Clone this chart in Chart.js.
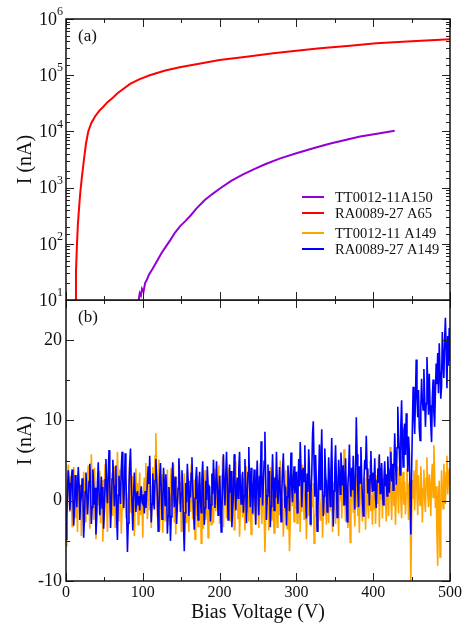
<!DOCTYPE html>
<html>
<head>
<meta charset="utf-8">
<script src="https://cdn.jsdelivr.net/npm/chart.js@4.4.1/dist/chart.umd.min.js"></script>
<style>
  html, body { margin: 0; padding: 0; background: #fff; }
  #wrap { position: relative; width: 466px; height: 630px; }
  #topChart { position: absolute; left: 0; top: 0; }
  #botChart { position: absolute; left: 0; top: 300px; }
</style>
</head>
<body>
<div id="wrap">
  <canvas id="topChart" width="466" height="320"></canvas>
  <canvas id="botChart" width="466" height="330"></canvas>
</div>
<script>
// legend entries, in the order of the figure
const seriesNames = ['TT0012-11A150', 'RA0089-27 A65', 'TT0012-11 A149', 'RA0089-27 A149'];
const seriesColors = ['#9400D3', '#FF0000', '#FFA500', '#0000FF'];

// panel (a): I-V curves, log scale
const redVoltage = [11.5, 12.1, 13, 14.3, 15.5, 16.9, 18.5, 20.4, 23.4, 26, 29, 33, 38, 43, 48, 54, 61, 67, 74, 84, 96, 109, 128, 148, 175, 200, 235, 270, 300, 331, 370, 404, 450, 500];
const redCurrent = [6.3, 10, 32, 100, 224, 417, 794, 1413, 3162, 6026, 10000, 14125, 18621, 22909, 26915, 33113, 39811, 47863, 56234, 70795, 85114, 100000, 120226, 138038, 162181, 186209, 213796, 245471, 272270, 301995, 334965, 371535, 402717, 436516];

const purpleVoltage = [94, 96, 97.5, 99, 101, 103, 105, 108, 113, 118, 124.6, 130, 136, 142, 148.4, 155, 162, 170, 180, 190, 200, 215, 230, 245, 260, 279, 300, 322, 343, 365, 383, 405, 428];
const purpleCurrent = [8.9, 13.2, 12.0, 15.8, 14.1, 20, 22.4, 28.2, 36.3, 47.9, 69.2, 89.1, 117.5, 158.5, 204, 251, 316, 427, 589, 759, 955, 1318, 1698, 2138, 2630, 3311, 4074, 5012, 6026, 7079, 8128, 9120, 10233];

// panel (b): noise currents, 1 V steps from 0 to 500 V
const sweepVoltage = Array.from({ length: 501 }, (_, i) => i);

const orangeCurrent = [
  -5.6, -2.0, 2.4, 4.5, 1.8, -1.4, 3.1, 0.7, -3.2, 0.9, 4.2, 2.3, -2.1, 1.6, -0.5, -3.9, 3.4, 1.2, -0.7, 2.0, -4.4, -1.3, 0.5, 3.6, 1.0,
  -2.6, 1.3, -1.0, 2.9, 4.4, -0.3, -3.5, 1.1, 5.8, 2.0, 0.2, -2.4, 4.1, 1.5, -4.8, -1.6, 1.8, -0.6, 3.7, 0.4, -2.8, 0.8, 2.6, -5.1, -1.7,
  2.3, 4.6, 1.2, -1.3, -3.9, 1.1, 3.2, -0.4, -2.0, 0.6, 3.5, -1.9, 1.4, 4.3, -3.3, -0.8, 2.2, 6.1, 1.9, -2.6, 3.9, 0.3, -4.1, -1.0, 2.7,
  -0.9, 4.4, 1.6, -2.2, 1.0, -3.6, 0.2, 2.5, 5.0, -1.5, 0.4, 3.1, -2.7, 1.7, -4.4, -0.6, 4.0, -0.3, 2.2, -3.0, 0.9, 3.5, -1.8, 1.3, -0.4,
  -4.6, 1.3, 2.9, -0.5, 4.7, 1.1, -2.3, 0.2, 3.6, -1.2, 1.9, -3.4, 0.6, 4.2, -0.8, 2.4, 5.6, 8.4, 3.0, -2.0, 0.7, 5.1, -3.7, 1.5, -1.1,
  3.3, -4.0, 0.4, 2.8, -2.5, 1.0, -0.3, 3.9, -1.6, 0.5, -3.1, 2.1, 4.1, -0.7, 1.4, 4.6, -2.7, 0.8, -4.2, 3.0, -1.5, 1.7, 5.2, -0.4, 2.3,
  -3.8, 1.2, -0.9, 0.6, 3.4, -2.0, 1.1, -2.8, 3.7, -0.6, -3.9, 1.9, -1.4, 4.5, 0.9, -2.3, 0.3, 2.6, -4.8, 0.9, -1.9, 3.1, -3.2, 1.5, -0.8,
  2.2, -5.3, -1.6, 1.8, -3.5, 0.4, 3.8, -2.4, -0.9, 2.1, -4.6, 1.2, -1.7, 0.7, -3.0, 2.6, -0.5, -2.8, 1.4, 4.0, -1.3, 0.2, 2.3, -1.1, 4.4,
  -2.9, 0.6, 3.2, -0.4, 5.5, -3.3, 1.7, 0.1, 3.9, -2.2, 2.8, -0.7, 4.1, 0.9, -2.6, 3.0, 1.4, -1.8, 2.0, -3.6, 0.8, 4.9, -1.0, 2.5, -2.2,
  1.6, -4.5, -0.9, 3.3, 0.5, -2.1, 2.9, -0.2, -3.7, 1.8, 4.3, -1.4, 0.7, -2.6, 3.6, 1.0, -4.2, -0.5, 2.4, -1.8, 0.9, 3.8, -2.9, 0.1, 2.1,
  -1.2, -3.4, 1.3, 4.7, -0.8, -2.9, 0.6, 3.5, -1.9, -6.4, -2.3, 1.5, -0.4, 2.8, -3.7, 0.2, 4.2, 1.1, -2.5, 0.8, -1.7, -4.0, 1.9, 3.1, -0.6,
  -3.3, 0.4, 2.6, -1.8, 5.0, 1.7, -2.2, 0.3, -4.5, -1.1, 2.0, 3.8, -0.9, -3.5, 1.2, -1.4, -6.3, -2.7, 1.6, 3.3, -0.7, 0.9, -2.6, 2.4, -1.0,
  1.1, -2.8, 3.7, 0.2, -0.6, -3.9, 1.9, -1.4, 4.5, 0.8, -2.3, 0.3, 2.6, -4.8, -1.5, 0.9, -1.9, 3.1, 0.4, -3.2, 1.5, -0.8, 2.2, -5.3, -2.0,
  -1.6, 1.8, -3.5, 0.4, 3.8, -0.5, -2.4, -0.9, 2.1, -4.6, -1.3, 1.2, -1.7, 0.7, -3.0, 2.6, -0.5, -2.8, 1.4, 4.0, -1.3, 0.2, -3.9, 2.3, -1.1,
  4.4, -2.9, 0.6, 3.2, -0.4, -4.4, 1.7, 0.1, 3.9, -2.2, 2.8, -0.7, 6.4, 0.9, -2.6, 3.0, 1.4, -3.4, -1.0, 2.2, -5.2, -0.9, 1.8, 4.1, -1.5,
  0.3, -3.2, 2.0, -0.8, 3.4, -1.9, 0.5, -4.0, 1.6, 4.5, -0.4, -2.6, 1.3, -1.1, 2.9, -3.6, 0.2, 3.7, -0.6, -2.2, 1.9, 5.0, -1.3, 0.7, -3.0,
  2.3, -1.1, 4.4, -2.9, 0.6, 3.2, -0.4, 5.5, -3.3, 1.7, 0.1, 3.9, -2.2, 2.8, -0.7, 4.1, 0.9, -2.6, 3.0, 1.4, -1.9, 2.2, 6.7, 0.5, -2.4,
  1.6, 3.5, -0.7, 2.1, -3.0, 0.8, 4.3, 1.2, -1.6, 2.6, 5.5, 0.0, -2.2, 1.9, 3.6, -0.5, 2.4, -1.7, 0.9, 4.0, 1.3, -2.4, 2.2, 0.6, -9.9,
  -2.4, 2.6, 0.3, 3.8, -1.2, 2.4, 5.1, 0.8, -1.8, 3.2, 1.1, -0.6, 4.3, 2.0, -2.7, 1.5, 3.9, 0.2, -1.4, 2.8, 5.4, 1.0, -0.8, 3.3, 1.7,
  -1.9, 2.9, 4.6, 0.4, 6.9, 3.1, -0.9, 1.8, -4.3, -8.1, 0.5, 2.5, -7.0, -2.2, 3.8, 1.4, -1.0, 4.6, 2.0, -0.4, 3.5, 5.6, 0.8, 2.9, 4.0,
  1.8
];

const blueCurrent = [
  -4.8, -2.1, 1.5, 3.8, 2.2, -1.2, 0.4, 2.6, 3.9, 0.4, -3.1, -1.0, 3.2, 1.4, -0.8, 1.9, 4.2, 2.0, -2.4, -0.3, 0.6, 2.8, 1.1, -4.6, -2.2,
  1.1, 3.5, 0.9, -1.7, 0.2, 2.4, 4.6, 1.3, -2.9, -0.8, 3.9, 2.1, -0.5, 1.6, -4.2, -1.9, 2.3, 4.8, 0.9, -1.8, 0.5, 3.0, -0.9, 1.7, -3.5,
  -1.2, 2.6, 5.2, 1.4, -0.3, 3.3, 6.3, 2.0, -3.4, -1.0, 2.7, 5.1, 3.0, -0.7, 1.8, 4.4, -2.2, -4.9, 0.7, 3.1, 1.2, -0.4, 4.0, 6.1, 2.4,
  -0.9, 1.6, 5.9, 3.2, -1.3, -6.4, -2.8, 1.8, 4.6, 6.5, 2.1, -0.6, -3.7, 0.8, 3.5, 1.0, -1.4, 0.3, 1.2, -0.5, 0.6, -1.2, 0.9, 1.8, -0.2,
  -0.4, 0.8, -1.6, 1.2, -0.9, 0.5, 2.3, 4.3, 2.1, 5.6, 1.4, -2.7, -0.4, 3.4, 1.0, -1.1, 2.5, 5.2, 3.1, 0.3, -3.8, -1.2, 2.9, 4.7, 1.4,
  -2.3, -0.6, 4.1, 2.2, -0.6, 3.3, 1.5, -4.1, -1.9, 1.7, 0.4, -5.0, -2.0, 2.6, 4.8, 1.9, -0.8, 3.0, 0.7, -2.9, -0.4, 1.5, 5.3, 2.8, -1.4,
  0.9, 3.8, 1.2, -3.2, -6.3, -1.5, 2.2, -0.2, 4.6, 2.5, -1.9, 1.1, 0.4, 3.4, 5.4, 1.8, -1.1, -3.6, 0.3, 2.7, 4.2, 0.6, -2.4, 1.9, 3.6,
  0.2, -1.5, 2.8, 4.9, 1.3, -3.0, -0.9, 2.5, 0.1, 4.3, 2.0, -1.1, 1.8, -2.6, -0.5, 3.4, 0.8, 5.1, 2.2, -0.9, 2.0, 4.9, 1.6, -1.8, 0.7,
  3.1, 0.4, -3.9, -1.2, 2.6, 5.8, 1.7, -0.6, 3.2, 6.1, 2.4, -2.4, -0.3, 4.5, 1.0, 3.7, -3.3, -1.0, 0.7, 5.8, 2.9, -1.2, 1.5, 2.9, 0.3,
  4.0, 6.1, 1.6, -0.4, 1.6, 3.6, -1.5, 0.6, 5.2, 1.8, -2.8, 0.9, 3.5, 6.7, 2.1, -0.8, 4.1, 2.4, -1.6, 1.3, 3.9, 0.2, -3.0, 2.2, 5.0,
  1.4, -1.8, 3.1, 0.4, 7.4, 3.3, -0.6, 2.2, 4.9, 8.6, 3.0, -2.4, 0.6, 4.5, 1.0, 3.7, -3.3, -0.7, 2.8, 5.8, 1.9, -1.2, 2.9, 0.3, 6.1,
  2.5, -0.4, 1.6, 4.2, 0.8, -2.6, 1.1, 3.8, 5.9, 2.0, -0.9, 1.7, -3.1, 0.5, 4.4, 2.2, -1.3, 3.0, 6.0, 1.5, -0.2, 2.6, 4.3, 0.9, 2.0,
  3.6, -1.5, 0.9, 5.2, 1.8, 7.3, 3.9, -0.8, 2.0, 4.1, 2.4, 6.9, 0.8, -2.2, 3.4, 1.1, 6.4, 4.0, -2.9, 0.9, 3.3, 8.2, 9.9, 4.6, 0.5,
  5.7, 2.1, -3.8, -0.9, 2.6, 7.0, 1.4, 4.8, 8.9, 2.7, -1.9, 0.6, 6.5, 3.3, 2.1, -1.4, 0.3, 5.4, 2.6, -0.7, 3.9, 7.8, 1.6, -3.2, 1.2,
  4.1, 6.9, 2.8, -2.1, 0.7, 5.1, 3.2, 0.8, 6.0, 3.7, 1.9, 4.4, -0.5, 2.1, 5.3, 1.0, -2.6, 1.8, 3.5, 7.0, 2.4, 0.5, 4.1, 1.3, 5.6,
  2.0, -1.1, 3.4, 10.4, 5.8, 1.2, -0.8, 4.3, 2.2, 6.7, 3.0, 0.2, -1.9, 2.6, 5.1, 3.9, 8.1, 4.0, 0.9, 2.7, -0.6, 3.1, 6.2, 2.5, 1.1,
  3.5, 1.2, 5.3, 0.4, -0.9, 2.5, 4.0, 2.2, 5.8, 0.9, 3.1, 4.7, 1.5, -0.5, 2.6, 4.9, 1.8, 3.3, 0.6, 5.5, 2.8, 1.0, 3.9, 6.1, 2.4,
  4.6, 1.3, 3.8, 8.4, 5.1, 2.0, 6.6, 11.7, 8.3, 6.3, 3.2, 9.4, 12.5, 7.2, 4.2, 8.8, 9.6, 5.7, 10.9, 7.8, 3.6, 8.0, 6.1, 1.0, -4.2,
  3.5, 9.1, 14.2, 11.0, 8.3, 12.6, 17.6, 13.1, 10.4, 13.8, 9.0, 7.5, 11.8, 15.2, 12.4, 11.3, 16.4, 13.0, 9.2, 12.1, 17.9, 14.6, 10.7, 15.8, 11.9,
  9.4, 7.3, 12.8, 15.1, 11.0, 9.2, 13.6, 17.1, 14.5, 18.4, 13.4, 19.6, 16.0, 12.7, 14.2, 21.0, 17.3, 15.3, 19.9, 22.8, 18.6, 14.0, 20.5, 16.8, 21.5,
  17.4
];

// axis ticks
const xTickStep = 50;
const xLabelStep = 100;
const linTickStep = 5;
const linLabels = [-10, 0, 10, 20];

const SERIF = '"Liberation Serif", "Times New Roman", serif';
const INK = '#111';

function pts(xs, ys) {
  return xs.map((x, i) => ({ x: x, y: ys[i] }));
}

function isDecade(v) {
  const l = Math.log10(v);
  return Math.abs(l - Math.round(l)) < 1e-9;
}

function fixWidth(w) {
  return function (s) {
    s.width = w;
    s.paddingTop = 0;
    s.paddingBottom = 0;
  };
}

// frame, inward ticks on all four sides and the panel tag
const panelFrame = {
  id: 'panelFrame',
  afterDatasetsDraw(chart, args, opts) {
    const { ctx, chartArea: a, scales } = chart;
    const xs = scales.x, ys = scales.y;
    ctx.save();
    ctx.strokeStyle = '#222';
    ctx.lineWidth = 1;
    xs.ticks.forEach(t => {
      const px = Math.round(xs.getPixelForValue(t.value)) + 0.5;
      const len = t.value % xLabelStep === 0 ? 8 : 4;
      ctx.beginPath();
      ctx.moveTo(px, a.top); ctx.lineTo(px, a.top + len);
      ctx.moveTo(px, a.bottom); ctx.lineTo(px, a.bottom - len);
      ctx.stroke();
    });
    ys.ticks.forEach(t => {
      const py = Math.round(ys.getPixelForValue(t.value)) + 0.5;
      const major = opts.kind === 'log' ? isDecade(t.value) : t.value % 10 === 0;
      const len = major ? 8 : 4;
      ctx.beginPath();
      ctx.moveTo(a.left, py); ctx.lineTo(a.left + len, py);
      ctx.moveTo(a.right, py); ctx.lineTo(a.right - len, py);
      ctx.stroke();
    });
    ctx.lineWidth = 1.5;
    ctx.strokeStyle = INK;
    ctx.strokeRect(a.left, a.top, a.right - a.left, a.bottom - a.top);

    ctx.fillStyle = INK;
    ctx.font = '17px ' + SERIF;
    ctx.textAlign = 'left';
    ctx.textBaseline = 'middle';
    ctx.fillText(opts.tag, a.left + 12, a.top + 18);
    ctx.restore();
  },
  afterDraw(chart, args, opts) {
    if (opts.kind !== 'log') return;
    const { ctx, chartArea: a, scales } = chart;
    const ys = scales.y;
    ctx.save();
    ctx.fillStyle = INK;
    ctx.textBaseline = 'middle';
    ctx.textAlign = 'right';
    ys.ticks.forEach(t => {
      if (!isDecade(t.value)) return;
      const py = ys.getPixelForValue(t.value);
      const exp = String(Math.round(Math.log10(t.value)));
      const right = a.left - 3;
      ctx.font = '12px ' + SERIF;
      const ew = ctx.measureText(exp).width;
      ctx.fillText(exp, right, py - 7);
      ctx.font = '18px ' + SERIF;
      ctx.fillText('10', right - ew, py + 1);
    });

    // legend for both panels
    const rows = [a.top + 178, a.top + 194, a.top + 214, a.top + 230];
    ctx.textAlign = 'left';
    ctx.font = '14.5px ' + SERIF;
    seriesNames.forEach((name, i) => {
      ctx.strokeStyle = seriesColors[i];
      ctx.lineWidth = 2;
      ctx.beginPath();
      ctx.moveTo(302, rows[i]);
      ctx.lineTo(324, rows[i]);
      ctx.stroke();
      ctx.fillStyle = INK;
      ctx.fillText(name, 335, rows[i] + 1);
    });
    ctx.restore();
  }
};

const lineStyle = { pointRadius: 0, tension: 0, fill: false };

new Chart(document.getElementById('topChart'), {
  type: 'line',
  data: {
    datasets: [
      Object.assign({ label: seriesNames[0], data: pts(purpleVoltage, purpleCurrent), borderColor: seriesColors[0], borderWidth: 2 }, lineStyle),
      Object.assign({ label: seriesNames[1], data: pts(redVoltage, redCurrent), borderColor: seriesColors[1], borderWidth: 2 }, lineStyle)
    ]
  },
  options: {
    responsive: false,
    animation: false,
    devicePixelRatio: 1,
    layout: { padding: { top: 19, right: 16, bottom: 20, left: 0 } },
    plugins: {
      legend: { display: false },
      tooltip: { enabled: false },
      panelFrame: { kind: 'log', tag: '(a)' }
    },
    scales: {
      x: {
        type: 'linear', min: 0, max: 500, display: false,
        ticks: { stepSize: xTickStep, autoSkip: false }
      },
      y: {
        type: 'logarithmic', min: 10, max: 1e6,
        grid: { display: false, drawTicks: false },
        border: { display: false },
        ticks: { autoSkip: false, callback: () => '', padding: 0 },
        title: {
          display: true, text: 'I (nA)', color: INK,
          font: { family: SERIF, size: 20 }, padding: { top: 14, bottom: 0 }
        },
        afterFit: fixWidth(66)
      }
    }
  },
  plugins: [panelFrame]
});

new Chart(document.getElementById('botChart'), {
  type: 'line',
  data: {
    datasets: [
      Object.assign({ label: seriesNames[3], data: pts(sweepVoltage, blueCurrent), borderColor: seriesColors[3], borderWidth: 1.6 }, lineStyle),
      Object.assign({ label: seriesNames[2], data: pts(sweepVoltage, orangeCurrent), borderColor: seriesColors[2], borderWidth: 1.6 }, lineStyle)
    ]
  },
  options: {
    responsive: false,
    animation: false,
    devicePixelRatio: 1,
    layout: { padding: { top: 0, right: 16, bottom: 0, left: 0 } },
    plugins: {
      legend: { display: false },
      tooltip: { enabled: false },
      panelFrame: { kind: 'linear', tag: '(b)' }
    },
    scales: {
      x: {
        type: 'linear', min: 0, max: 500,
        grid: { display: false, drawTicks: false },
        border: { display: false },
        ticks: {
          stepSize: xTickStep, autoSkip: false, maxRotation: 0, padding: 2,
          color: INK, font: { family: SERIF, size: 16 },
          callback: v => (v % xLabelStep === 0 ? String(v) : '')
        },
        title: {
          display: true, text: 'Bias Voltage (V)', color: INK,
          font: { family: SERIF, size: 20 }, padding: { top: 0, bottom: 5 }
        },
        afterFit(s) { s.height = 49; s.paddingLeft = 0; s.paddingRight = 0; }
      },
      y: {
        type: 'linear', min: -10, max: 25,
        grid: { display: false, drawTicks: false },
        border: { display: false },
        ticks: {
          stepSize: linTickStep, autoSkip: false, padding: 4,
          color: INK, font: { family: SERIF, size: 18 },
          callback: v => (linLabels.includes(v) ? String(v) : '')
        },
        title: {
          display: true, text: 'I (nA)', color: INK,
          font: { family: SERIF, size: 20 }, padding: { top: 14, bottom: 0 }
        },
        afterFit: fixWidth(66)
      }
    }
  },
  plugins: [panelFrame]
});
</script>
</body>
</html>
